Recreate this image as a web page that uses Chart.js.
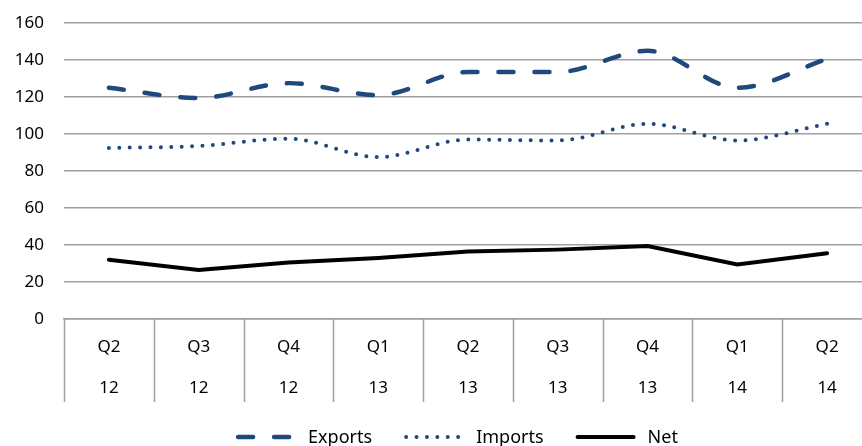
<!DOCTYPE html>
<html>
<head>
<meta charset="utf-8">
<script src="https://cdn.jsdelivr.net/npm/chart.js@4/dist/chart.umd.min.js"></script>
<style>
    html, body { margin: 0; padding: 0; background: #fff; overflow: hidden; }
    #wrap { width: 914px; height: 446px; }
</style>
</head>
<body>
<div id="wrap"><canvas id="tradeChart" width="914" height="446"></canvas></div>
<script>
// Quarterly trade figures
const quarters = ["Q2", "Q3", "Q4", "Q1", "Q2", "Q3", "Q4", "Q1", "Q2"];
const years = ["12", "12", "12", "13", "13", "13", "13", "14", "14"];
const exportsData = [125, 119.5, 127.5, 121, 133.5, 133.5, 145, 125, 140.5];
const importsData = [92.5, 93.5, 97.5, 87.5, 97, 96.5, 105.5, 96.5, 105.5];
const netData = [32, 26.5, 30.5, 33, 36.5, 37.5, 39.5, 29.5, 35.5];
const yTicks = [0, 20, 40, 60, 80, 100, 120, 140, 160];

const FONT = "'Noto Sans', sans-serif";
const BLUE = "#1f497d";
const GRID = "#a0a0a0";

const labels = quarters.map((q, i) => [q, years[i]]);

// vertical separators between categories, below the x axis
const categoryDividers = {
    id: "categoryDividers",
    afterDraw(chart) {
        const xs = chart.scales.x;
        const ctx = chart.ctx;
        const half = (xs.getPixelForValue(1) - xs.getPixelForValue(0)) / 2;
        ctx.save();
        ctx.strokeStyle = GRID;
        ctx.lineWidth = 1.5;
        for (let i = 0; i <= labels.length; i++) {
            const px = Math.round(xs.getPixelForValue(0) - half + i * half * 2) + 0.5;
            ctx.beginPath();
            ctx.moveTo(px, xs.top);
            ctx.lineTo(px, xs.top + 83);
            ctx.stroke();
        }
        ctx.restore();
    }
};

// legend drawn under the axis, using each dataset's own line style
const bottomLegend = {
    id: "bottomLegend",
    afterDraw(chart) {
        const ctx = chart.ctx;
        const items = chart.data.datasets;
        const sampleW = 60, gapText = 12, gapItem = 32;
        ctx.save();
        ctx.font = "18px " + FONT;
        let total = 0;
        const widths = items.map(ds => ctx.measureText(ds.label).width);
        widths.forEach(w => { total += sampleW + gapText + w; });
        total += gapItem * (items.length - 1);
        let x = chart.width / 2 - total / 2;
        const y = 437;
        items.forEach((ds, i) => {
            ctx.beginPath();
            ctx.strokeStyle = ds.borderColor;
            ctx.lineWidth = ds.borderWidth;
            ctx.lineCap = ds.borderCapStyle || "butt";
            ctx.setLineDash(ds.borderDash || []);
            ctx.moveTo(x + 2, y);
            ctx.lineTo(x + sampleW - 2, y);
            ctx.stroke();
            ctx.setLineDash([]);
            x += sampleW + gapText;
            ctx.fillStyle = "#000";
            ctx.textBaseline = "middle";
            ctx.textAlign = "left";
            ctx.fillText(ds.label, x, y + 1);
            x += widths[i] + gapItem;
        });
        ctx.restore();
    }
};

const ctx = document.getElementById("tradeChart").getContext("2d");
const tradeChart = new Chart(ctx, {
    type: "line",
    data: {
        labels: labels,
        datasets: [
            {
                label: "Exports",
                data: exportsData,
                borderColor: BLUE,
                borderWidth: 4.5,
                borderDash: [15, 21],
                borderCapStyle: "round",
                cubicInterpolationMode: "monotone",
                pointRadius: 0,
                fill: false,
            },
            {
                label: "Imports",
                data: importsData,
                borderColor: BLUE,
                borderWidth: 4,
                borderDash: [0, 10.4],
                borderCapStyle: "round",
                cubicInterpolationMode: "monotone",
                pointRadius: 0,
                fill: false,
            },
            {
                label: "Net",
                data: netData,
                borderColor: "#000",
                borderWidth: 4,
                borderCapStyle: "round",
                tension: 0,
                pointRadius: 0,
                fill: false,
            },
        ],
    },
    options: {
        responsive: false,
        animation: false,
        layout: { padding: { top: 23, right: 42, bottom: 29, left: 0 } },
        plugins: {
            legend: { display: false },
            tooltip: { enabled: false },
        },
        scales: {
            x: {
                type: "category",
                offset: true,
                grid: {
                    display: true,
                    drawOnChartArea: false,
                    drawTicks: false,
                },
                border: { color: GRID, width: 1.5 },
                ticks: {
                    color: "#000",
                    padding: 8,
                    maxRotation: 0,
                    autoSkip: false,
                    font: { family: FONT, size: 17, lineHeight: 41 / 17 },
                },
            },
            y: {
                min: 0,
                max: 160,
                afterBuildTicks: (scale) => {
                    scale.ticks = yTicks.map(v => ({ value: v }));
                },
                afterFit: (scale) => {
                    scale.width = 64;
                    scale.paddingTop = 0;
                    scale.paddingBottom = 0;
                },
                grid: { color: GRID, lineWidth: 1.5, drawTicks: false },
                border: { display: false },
                ticks: {
                    color: "#000",
                    padding: 20,
                    font: { family: FONT, size: 17, lineHeight: 1 },
                },
            },
        },
    },
    plugins: [categoryDividers, bottomLegend],
});
</script>
</body>
</html>
